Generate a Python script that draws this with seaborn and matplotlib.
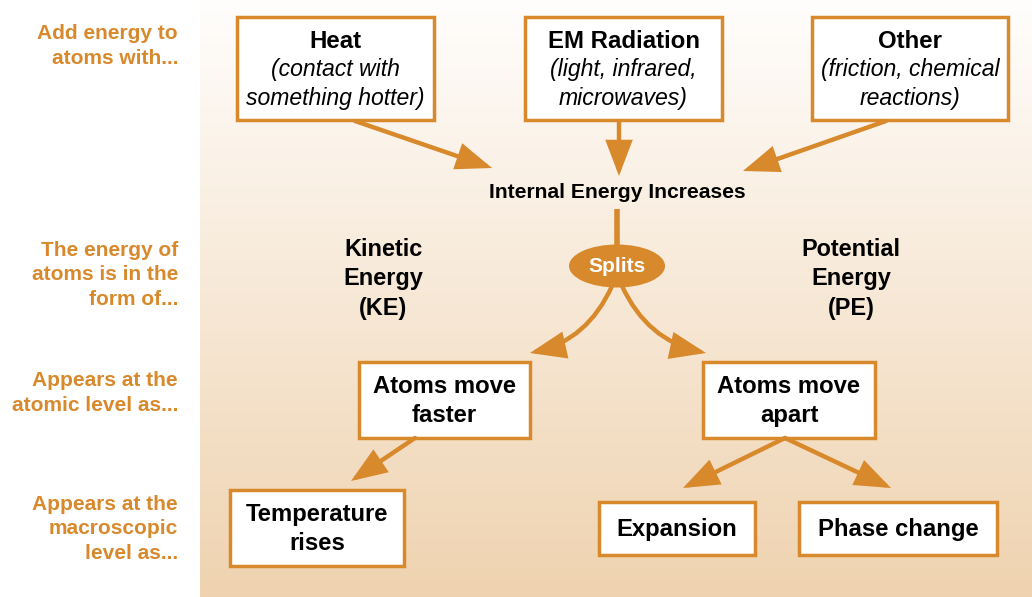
import numpy as np
import seaborn as sns
import matplotlib.pyplot as plt
from matplotlib.patches import Rectangle, Ellipse, FancyArrowPatch

sns.set_theme(style="white")
plt.rcParams['font.family'] = ['Liberation Sans', 'DejaVu Sans']

ORANGE = "#d8892c"

# row labels on the left
row_labels = [
    "Add energy to\natoms with...",
    "The energy of\natoms is in the\nform of...",
    "Appears at the\natomic level as...",
    "Appears at the\nmacroscopic\nlevel as...",
]
row_label_y = [46, 275, 393, 529]

# source boxes (title + italic note)
source_titles = ["Heat", "EM Radiation", "Other"]
source_notes = ["(contact with\nsomething hotter)", "(light, infrared,\nmicrowaves)",
                "(friction, chemical\nreactions)"]
source_boxes = [(237, 17, 197, 103), (525, 17, 197, 103), (812, 17, 196, 103)]

# result boxes
result_labels = ["Atoms move\nfaster", "Atoms move\napart", "Temperature\nrises",
                 "Expansion", "Phase change"]
result_boxes = [(359, 362, 171, 76), (703, 362, 172, 76), (230, 490, 174, 76),
                (599, 502, 156, 53), (799, 502, 198, 53)]

energy_forms = ["Kinetic\nEnergy\n(KE)", "Potential\nEnergy\n(PE)"]
energy_x = [383, 851]

# arrows: start, end, curvature
arrows = [((355, 121), (492, 168), 0), ((619, 121), (619, 176), 0),
          ((886, 121), (743, 171), 0), ((612, 286), (530, 353), -0.25),
          ((622, 286), (706, 353), 0.25), ((415, 438), (351, 481), 0),
          ((785, 438), (683, 488), 0), ((785, 438), (891, 488), 0)]

fig = plt.figure(figsize=(10.32, 5.97), dpi=100)
ax = fig.add_axes([0, 0, 1, 1])
ax.set_xlim(0, 1032)
ax.set_ylim(597, 0)
ax.axis("off")

# background gradient
grad = np.linspace(0, 1, 256)[:, None]
c0 = np.array([1.0, 0.995, 0.99])
c1 = np.array([0.937, 0.827, 0.69])
img = c0 + (c1 - c0) * grad[..., None]
ax.imshow(np.repeat(img, 2, axis=1), extent=[200, 1032, 597, 0], aspect="auto", zorder=0)

for lab, y in zip(row_labels, row_label_y):
    ax.text(178, y, lab, ha="right", va="center", color=ORANGE, fontsize=15,
            fontweight="bold", linespacing=1.38)

for (x, y, w, h), t, n in zip(source_boxes, source_titles, source_notes):
    ax.add_patch(Rectangle((x, y), w, h, facecolor="white", edgecolor=ORANGE, lw=2.5, zorder=2))
    ax.text(x + w / 2, y + 24, t, ha="center", va="center", fontsize=17.3,
            fontweight="bold", color="black", zorder=3)
    ax.text(x + w / 2, y + 67, n, ha="center", va="center", fontsize=16.6,
            style="italic", color="black", linespacing=1.34, zorder=3)

for (x, y, w, h), t in zip(result_boxes, result_labels):
    ax.add_patch(Rectangle((x, y), w, h, facecolor="white", edgecolor=ORANGE, lw=2.5, zorder=2))
    ax.text(x + w / 2, y + h / 2 + 1, t, ha="center", va="center", fontsize=17.2,
            fontweight="bold", color="black", linespacing=1.29, zorder=3)

for t, x in zip(energy_forms, energy_x):
    ax.text(x, 279, t, ha="center", va="center", fontsize=16.9, fontweight="bold",
            color="black", linespacing=1.34)

ax.text(617, 192, "Internal Energy Increases", ha="center", va="center",
        fontsize=15.2, fontweight="bold", color="black")

ax.plot([617, 617], [209, 250], color=ORANGE, lw=4, solid_capstyle="butt", zorder=2)
ax.add_patch(Ellipse((617, 266), 96, 43, facecolor=ORANGE, edgecolor="none", zorder=3))
ax.text(617, 266, "Splits", ha="center", va="center", fontsize=15, fontweight="bold",
        color="white", zorder=4)

for s, e, rad in arrows:
    ax.add_patch(FancyArrowPatch(s, e, arrowstyle="-|>,head_length=1.0,head_width=0.38",
                                 connectionstyle=f"arc3,rad={rad}", color=ORANGE,
                                 lw=3.2, mutation_scale=20, shrinkA=0, shrinkB=0,
                                 joinstyle="miter", zorder=2))

fig.savefig("out.png", dpi=100)
